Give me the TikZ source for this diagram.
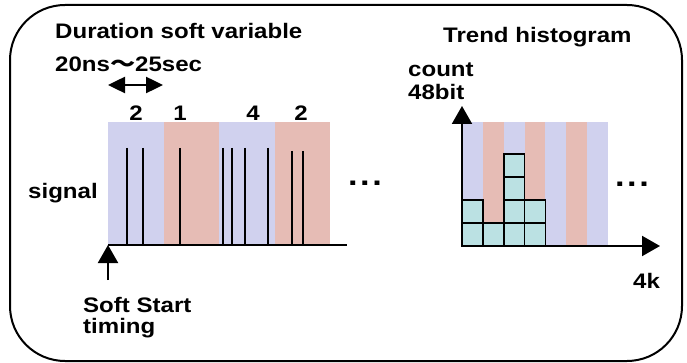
\documentclass[tikz,border=0pt]{standalone}
\usepackage{fontspec}
\setmainfont{Liberation Sans}[FakeStretch=1.145]
\newfontfamily\cjk{Noto Sans CJK JP}[FakeStretch=1.2]
\usetikzlibrary{arrows.meta}
\definecolor{bandblue}{RGB}{208,209,238}
\definecolor{bandred}{RGB}{230,188,181}
\definecolor{cellfill}{RGB}{187,225,227}
\begin{document}
\begin{tikzpicture}[x=1pt,y=-1pt,
  lbl/.style={font=\fontsize{21}{24}\selectfont\bfseries, inner sep=0pt, anchor=base west},
  num/.style={font=\fontsize{21}{24}\selectfont\bfseries, inner sep=0pt, anchor=base},
  dotstyle/.style={font=\fontsize{30}{32}\selectfont\bfseries, inner sep=0pt, anchor=base},
  pulse/.style={line width=2pt},
  axisline/.style={line width=2pt},
  tipped/.style={line width=2pt, -{Triangle[width=20pt,length=18pt]}},
  dbl/.style={line width=2.5pt, {Triangle[width=16pt,length=17pt]}-{Triangle[width=16pt,length=17pt]}},
  cell/.style={draw, line width=1.6pt, fill=cellfill}
]
\useasboundingbox (0,0) rectangle (687,363);
% frame
\draw[line width=2pt, rounded corners=55pt] (10,5) rectangle (682,361);

% signal bands
\foreach \i/\c in {0/bandblue,1/bandred,2/bandblue,3/bandred}
  \fill[\c] (108+\i*55.5,122) rectangle (108+\i*55.5+55.5,245);

% histogram bands
\foreach \i/\c in {0/bandblue,1/bandred,2/bandblue,3/bandred,4/bandblue,5/bandred,6/bandblue}
  \fill[\c] (462+\i*20.86,122) rectangle (462+\i*20.86+20.86,246);

% histogram cells
\foreach \col/\h in {0/2,1/1,2/4,3/2}{
  \foreach \r in {1,...,\h}{
    \draw[cell] (462+\col*20.86,246-23*\r) rectangle (462+\col*20.86+20.86,246-23*\r+23);
  }
}

% pulses
\foreach \x in {127,143,180,223,232,245,268}
  \draw[pulse] (\x,148) -- (\x,245);
\foreach \x in {292,303}
  \draw[pulse] (\x,151) -- (\x,245);

% coordinates
\coordinate (dl) at (108,85);
\coordinate (dr) at (163,85);
\coordinate (st) at (108,280);
\coordinate (s0) at (108,245);
\coordinate (se) at (347,245);
\coordinate (h0) at (462,246);
\coordinate (hy) at (462,106);
\coordinate (hx) at (660,246);

% connectors
\draw[dbl] (dl) -- (dr);
\draw[axisline] (s0) -- (se);
\draw[tipped] (st) -- (s0);
\draw[tipped] (h0) -- (hy);
\draw[tipped] (h0) -- (hx);

% labels
\node[lbl] (title1) at (55,39) {Duration soft variable};
\node[lbl] (range) at (55,72) {20ns{\cjk\bfseries ～}25sec};
\node[num] (n1) at (136,121) {2};
\node[num] (n2) at (180,121) {1};
\node[num] (n3) at (253,121) {4};
\node[num] (n4) at (301,121) {2};
\node[lbl] (sig) at (28,199) {signal};
\node[lbl] (soft) at (83,312) {Soft Start};
\node[lbl] (timing) at (83,333) {timing};
\node[lbl] (title2) at (443,43) {Trend histogram};
\node[lbl] (count) at (408,77) {count};
\node[lbl] (bits) at (408,100) {48bit};
\node[lbl] (fourk) at (633,288) {4k};
\node[dotstyle] (dots1) at (365,185.5) {.\kern2.5pt.\kern2.5pt.};
\node[dotstyle] (dots2) at (632,186.5) {.\kern2.5pt.\kern2.5pt.};
\end{tikzpicture}
\end{document}
